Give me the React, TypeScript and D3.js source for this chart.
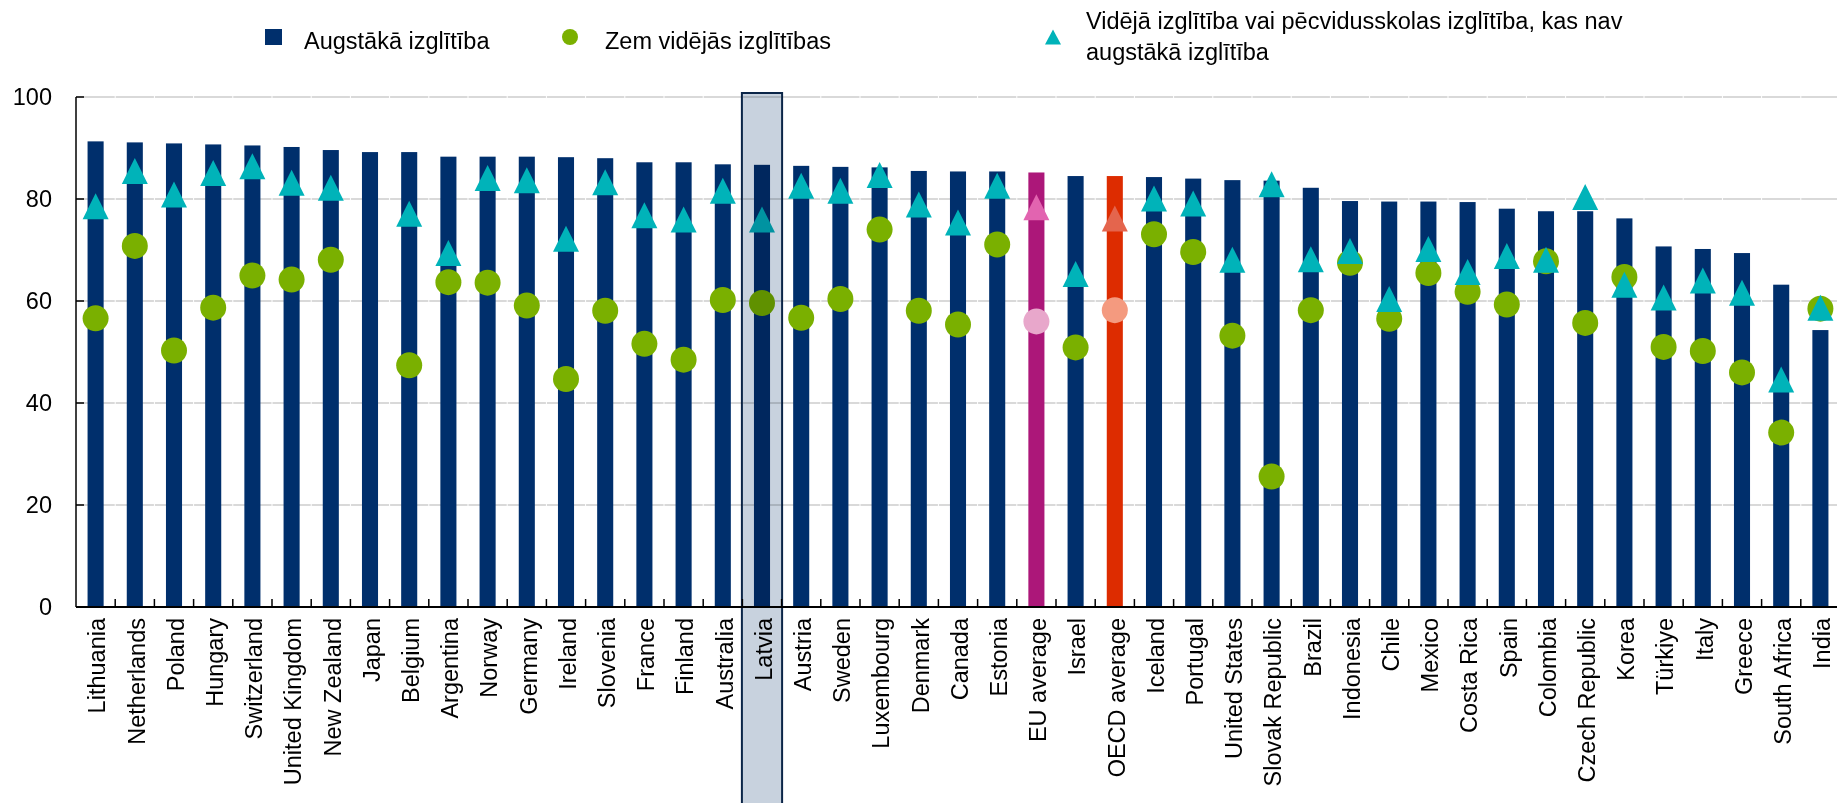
import * as React from 'react';
import * as d3 from 'd3';

const categories = [
  'Lithuania', 'Netherlands', 'Poland', 'Hungary', 'Switzerland', 'United Kingdom', 'New Zealand',
  'Japan', 'Belgium', 'Argentina', 'Norway', 'Germany', 'Ireland', 'Slovenia', 'France', 'Finland',
  'Australia', 'Latvia', 'Austria', 'Sweden', 'Luxembourg', 'Denmark', 'Canada', 'Estonia',
  'EU average', 'Israel', 'OECD average', 'Iceland', 'Portugal', 'United States', 'Slovak Republic',
  'Brazil', 'Indonesia', 'Chile', 'Mexico', 'Costa Rica', 'Spain', 'Colombia', 'Czech Republic',
  'Korea', 'Türkiye', 'Italy', 'Greece', 'South Africa', 'India',
];

// Augstākā izglītība (bars)
const tertiary = [
  91.3, 91.1, 90.9, 90.7, 90.5, 90.2, 89.6,
  89.2, 89.2, 88.3, 88.3, 88.3, 88.2, 88.0, 87.2, 87.2,
  86.8, 86.7, 86.5, 86.3, 86.2, 85.5, 85.4, 85.4,
  85.2, 84.5, 84.5, 84.3, 84.0, 83.7, 83.6,
  82.2, 79.6, 79.5, 79.5, 79.4, 78.1, 77.6, 77.6,
  76.2, 70.7, 70.2, 69.4, 63.2, 54.3,
];

// Zem vidējās izglītības (circles)
const belowUpperSecondary: (number | null)[] = [
  56.6, 70.8, 50.3, 58.7, 65.0, 64.2, 68.1,
  null, 47.4, 63.7, 63.6, 59.1, 44.7, 58.1, 51.6, 48.5,
  60.2, 59.6, 56.7, 60.4, 74.0, 58.1, 55.4, 71.1,
  56.0, 50.9, 58.2, 73.1, 69.6, 53.2, 25.6,
  58.2, 67.5, 56.5, 65.5, 61.8, 59.3, 67.8, 55.7,
  64.7, 51.0, 50.2, 46.0, 34.2, 58.5,
];

// Vidējā izglītība vai pēcvidusskolas izglītība, kas nav augstākā izglītība (triangles)
const upperSecondary: (number | null)[] = [
  78.6, 85.5, 80.9, 85.1, 86.4, 83.2, 82.2,
  null, 77.1, 69.4, 84.1, 83.7, 72.2, 83.3, 76.8, 76.0,
  81.6, 76.0, 82.6, 81.6, 84.7, 78.9, 75.4, 82.6,
  78.4, 65.3, 76.2, 80.1, 79.1, 68.1, 82.9,
  68.2, 69.8, 60.4, 70.2, 65.7, 68.8, 68.1, 80.4,
  63.2, 60.7, 64.0, 61.6, 44.6, 58.7,
];

const yTicks = [0, 20, 40, 60, 80, 100];
const legendLabels = ['Augstākā izglītība', 'Zem vidējās izglītības'];
const legendLabel3 = ['Vidējā izglītība vai pēcvidusskolas izglītība, kas nav', 'augstākā izglītība'];

const W = 1837;
const H = 803;
const FONT = "'Liberation Sans', Arial, sans-serif";
const FS = 23.5;

const NAVY = '#002F6C';
const GREEN = '#7AB000';
const TEAL = '#00B3B9';

const special: Record<string, { bar: string; circle: string; tri: string }> = {
  'EU average': { bar: '#AC1779', circle: '#E8A7CB', tri: '#E264B0' },
  'OECD average': { bar: '#DD2C00', circle: '#F49A7F', tri: '#E4654D' },
};

const triPath = (cx: number, cy: number, w: number, h: number) =>
  `M${cx},${cy - h / 2}L${cx + w / 2},${cy + h / 2}L${cx - w / 2},${cy + h / 2}Z`;

export default function App() {
  const x = d3.scaleBand<string>().domain(categories).range([76, 1840]).padding(0);
  const y = d3.scaleLinear().domain([0, 100]).range([607, 97]);
  const bw = x.bandwidth();
  const barW = bw * 0.41;
  const left = x.range()[0];
  const right = x.range()[1];

  return (
    <svg width={W} height={H} style={{ position: 'absolute', left: 0, top: 0, display: 'block', background: '#fff' }}
      fontFamily={FONT} fontSize={FS}>
      <rect width={W} height={H} fill="#fff" />

      {/* legend */}
      <g>
        <rect x={265} y={29} width={17} height={16} fill={NAVY} />
        <text x={304} y={49}>{legendLabels[0]}</text>
        <circle cx={570} cy={37} r={8} fill={GREEN} />
        <text x={605} y={49}>{legendLabels[1]}</text>
        <path d={triPath(1053, 37, 16, 15)} fill={TEAL} />
        <text x={1086} y={29}>{legendLabel3[0]}</text>
        <text x={1086} y={59.5}>{legendLabel3[1]}</text>
      </g>

      {/* gridlines */}
      {yTicks.filter((t) => t > 0).map((t) => (
        <line key={t} x1={left + 0.5} x2={right} y1={y(t)} y2={y(t)} stroke="#D9D9D9" strokeWidth={2}
          strokeDasharray={`${bw - 1} 1`} />
      ))}

      {/* bars */}
      {categories.map((c, i) => (
        <rect key={c} x={(x(c) as number) + (bw - barW) / 2} y={y(tertiary[i])} width={barW}
          height={y(0) - y(tertiary[i])} fill={special[c] ? special[c].bar : NAVY} />
      ))}

      {/* circles */}
      {categories.map((c, i) => {
        const v = belowUpperSecondary[i];
        if (v == null) return null;
        return <circle key={c} cx={(x(c) as number) + bw / 2} cy={y(v)} r={13}
          fill={special[c] ? special[c].circle : GREEN} />;
      })}

      {/* triangles */}
      {categories.map((c, i) => {
        const v = upperSecondary[i];
        if (v == null) return null;
        return <path key={c} d={triPath((x(c) as number) + bw / 2, y(v), 26, 26)}
          fill={special[c] ? special[c].tri : TEAL} />;
      })}

      {/* axes */}
      <line x1={left} x2={right} y1={y(0)} y2={y(0)} stroke="#000" strokeWidth={2} />
      <line x1={left} x2={left} y1={y(0)} y2={y(100)} stroke="#000" strokeWidth={1.5} />
      {yTicks.map((t) => (
        <g key={t}>
          <line x1={left} x2={left + 8} y1={y(t)} y2={y(t)} stroke="#000" strokeWidth={1.5} />
          <text x={52} y={y(t)} dy="0.35em" textAnchor="end">{t}</text>
        </g>
      ))}
      {categories.map((c) => (
        <line key={c} x1={(x(c) as number) + bw} x2={(x(c) as number) + bw} y1={y(0)} y2={y(0) - 8}
          stroke="#000" strokeWidth={1.5} />
      ))}

      {/* x labels */}
      {categories.map((c) => (
        <text key={c} transform={`translate(${(x(c) as number) + bw / 2},618) rotate(-90)`}
          textAnchor="end" dy="0.42em">{c}</text>
      ))}

      {/* Latvia highlight */}
      <rect x={(x('Latvia') as number) - 0.5} y={93} width={bw + 1} height={H - 93 + 5}
        fill="#C8D2DE" stroke="#0B2548" strokeWidth={2} style={{ mixBlendMode: 'multiply' }} />
    </svg>
  );
}
